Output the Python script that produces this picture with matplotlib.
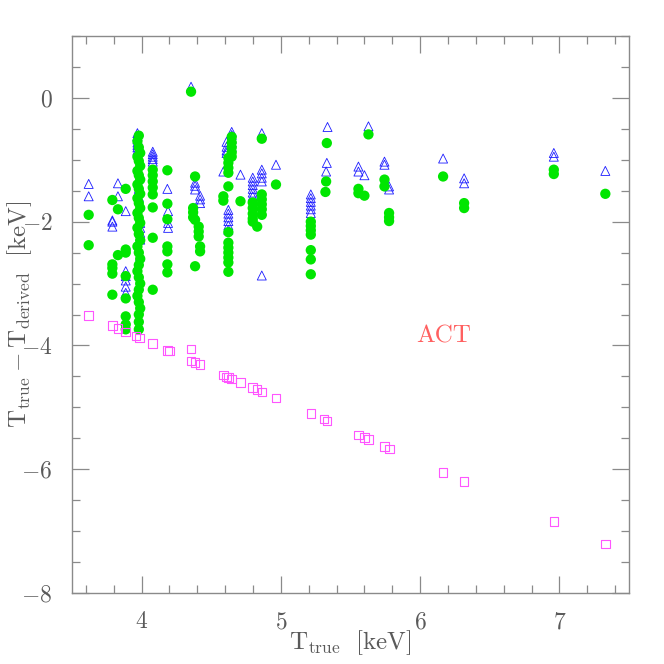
import matplotlib
matplotlib.use("Agg")
import matplotlib.pyplot as plt
from matplotlib.ticker import MultipleLocator

plt.rcParams["font.family"] = "serif"
plt.rcParams["font.serif"] = ["cmr10", "DejaVu Serif"]
plt.rcParams["mathtext.fontset"] = "cm"
plt.rcParams["axes.formatter.use_mathtext"] = True

# green circles: T_true, T_true - T_derived
green_x = [3.62, 3.62,
           3.79, 3.79, 3.79, 3.79, 3.79,
           3.83, 3.83,
           3.886, 3.886, 3.886, 3.886, 3.886, 3.886, 3.886, 3.886,
           3.98, 3.97, 3.98, 3.99, 3.97, 3.98, 3.99, 3.97, 3.98, 3.99,
           3.97, 3.98, 3.99, 3.97, 3.98, 3.99, 3.97, 3.98, 3.99, 3.97,
           3.98, 3.99, 3.97, 3.98, 3.99, 3.98, 3.97, 3.98, 3.99, 3.98,
           3.97, 3.98, 3.99, 3.98, 3.98, 3.98,
           4.08, 4.08, 4.08, 4.08, 4.08, 4.08, 4.08, 4.08,
           4.185, 4.185, 4.185, 4.185, 4.185, 4.185, 4.185,
           4.355,
           4.384, 4.37, 4.37, 4.37, 4.384, 4.384,
           4.41, 4.41, 4.41, 4.42, 4.42,
           4.587, 4.587,
           4.623, 4.623, 4.623, 4.623, 4.623, 4.623, 4.623, 4.623, 4.623,
           4.623, 4.623, 4.623,
           4.647, 4.647, 4.647, 4.647, 4.647,
           4.71,
           4.798, 4.798, 4.798, 4.798, 4.798,
           4.83,
           4.863, 4.863, 4.863, 4.863, 4.863, 4.863,
           4.965,
           5.215, 5.215, 5.215, 5.215, 5.215, 5.215, 5.215,
           5.33, 5.325, 5.32,
           5.557, 5.557, 5.60, 5.629,
           5.744, 5.744, 5.777, 5.777, 5.777,
           6.165, 6.316, 6.316, 6.96, 6.96, 7.33]
green_y = [-1.89, -2.38,
           -1.65, -2.69, -2.75, -2.84, -3.18,
           -1.80, -2.54,
           -1.47, -2.45, -2.50, -2.88, -3.24, -3.53, -3.66, -3.74,
           -0.61, -0.70, -0.80, -0.89, -0.95, -1.02, -1.10, -1.18, -1.25, -1.32,
           -1.40, -1.47, -1.55, -1.62, -1.70, -1.78, -1.86, -1.94, -2.02, -2.10,
           -2.20, -2.30, -2.40, -2.50, -2.60, -2.70, -2.80, -2.90, -3.00, -3.10,
           -3.20, -3.30, -3.40, -3.50, -3.62, -3.74,
           -1.16, -1.25, -1.35, -1.45, -1.56, -1.77, -2.26, -3.10,
           -1.17, -1.71, -1.96, -2.40, -2.48, -2.69, -2.82,
           0.10,
           -1.27, -1.78, -1.85, -1.93, -1.97, -2.72,
           -2.08, -2.16, -2.24, -2.40, -2.48,
           -1.59, -1.66,
           -0.97, -1.05, -1.13, -1.21, -1.43, -2.17, -2.34, -2.42, -2.50,
           -2.58, -2.66, -2.81,
           -0.63, -0.72, -0.80, -0.88, -0.95,
           -1.67,
           -1.69, -1.78, -1.87, -1.95, -2.00,
           -2.08,
           -0.66, -1.56, -1.64, -1.72, -1.80, -1.89,
           -1.40,
           -2.00, -2.07, -2.14, -2.21, -2.46, -2.61, -2.85,
           -0.73, -1.35, -1.52,
           -1.47, -1.54, -1.58, -0.59,
           -1.32, -1.43, -1.86, -1.93, -1.99,
           -1.27, -1.70, -1.78, -1.16, -1.23, -1.55]

# blue open triangles
tri_x = [3.62, 3.62,
         3.79, 3.79, 3.79,
         3.83, 3.83,
         3.886, 3.886, 3.886, 3.886, 3.886, 3.886,
         3.97, 3.97, 3.97, 3.97, 3.97, 3.97, 3.97, 3.98, 3.98, 3.98,
         3.99, 3.99, 3.99, 3.99, 3.99, 3.99, 3.99,
         4.08, 4.08, 4.08, 4.08, 4.08,
         4.185, 4.19, 4.19, 4.19,
         4.355,
         4.384, 4.384, 4.384, 4.42, 4.42, 4.42,
         4.587,
         4.623, 4.623, 4.623, 4.623, 4.623, 4.623, 4.61, 4.61, 4.61, 4.61,
         4.647, 4.647, 4.647, 4.647, 4.647,
         4.71,
         4.798, 4.798, 4.798, 4.798, 4.798, 4.798,
         4.863, 4.863, 4.863, 4.863, 4.863, 4.863,
         4.965,
         5.215, 5.215, 5.215, 5.215, 5.215, 5.215,
         5.335, 5.33, 5.325,
         5.557, 5.557, 5.60, 5.629,
         5.744, 5.744, 5.777, 5.777,
         6.165, 6.316, 6.316, 6.96, 6.96, 7.33]
tri_y = [-1.39, -1.59,
         -1.98, -2.00, -2.08,
         -1.38, -1.59,
         -1.83, -2.80, -2.88, -2.95, -3.05, -3.15,
         -0.57, -0.62, -0.67, -0.72, -0.76, -0.80, -0.85, -1.30, -1.47, -1.60,
         -1.73, -2.02, -2.10, -2.18, -2.24, -2.29, -2.56,
         -0.87, -0.91, -0.95, -0.99, -1.03,
         -1.47, -1.83, -2.02, -2.10,
         0.18,
         -1.37, -1.42, -1.48, -1.58, -1.64, -1.70,
         -1.19,
         -1.81, -1.87, -1.93, -1.99, -2.06, -2.13, -0.71, -0.79, -0.85, -0.89,
         -0.55, -0.60, -0.66, -0.72, -0.79,
         -1.24,
         -1.29, -1.35, -1.41, -1.47, -1.53, -1.59,
         -0.57, -1.16, -1.22, -1.29, -1.35, -2.87,
         -1.08,
         -1.56, -1.62, -1.68, -1.74, -1.80, -1.86,
         -0.47, -1.05, -1.19,
         -1.11, -1.19, -1.25, -0.46,
         -1.03, -1.08, -1.43, -1.48,
         -0.98, -1.30, -1.38, -0.89, -0.95, -1.18]

# magenta open squares
sq_x = [3.62, 3.79, 3.83, 3.886, 3.96, 3.984, 4.08, 4.185, 4.20, 4.355,
        4.355, 4.384, 4.42, 4.587, 4.61, 4.623, 4.647, 4.71, 4.798, 4.83,
        4.863, 4.965, 5.215, 5.31, 5.33, 5.557, 5.60, 5.629, 5.744, 5.78,
        6.165, 6.316, 6.96, 7.33]
sq_y = [-3.52, -3.68, -3.73, -3.78, -3.85, -3.88, -3.97, -4.08, -4.09, -4.06,
        -4.25, -4.28, -4.31, -4.48, -4.51, -4.52, -4.54, -4.60, -4.68, -4.71,
        -4.75, -4.85, -5.10, -5.19, -5.22, -5.45, -5.49, -5.52, -5.63, -5.67,
        -6.05, -6.20, -6.84, -7.21]

grey = "#8a8a8a"
text_grey = "#5a5a5a"

fig = plt.figure(figsize=(6.64, 6.64), dpi=100)
ax = fig.add_axes([0.1084, 0.1069, 0.8389, 0.8389])

ax.scatter(tri_x, tri_y, marker="^", s=42, facecolors="none",
           edgecolors="#1a1aff", linewidths=0.6, zorder=2)
ax.scatter(green_x, green_y, marker="o", s=55, color="#00e600",
           edgecolors="none", zorder=3)
ax.scatter(sq_x, sq_y, marker="s", s=38, facecolors="none",
           edgecolors="#ff55ff", linewidths=0.8, zorder=4)

ax.text(6.17, -3.85, "ACT", color="#ff6060", fontsize=18,
        ha="center", va="center", family="serif")

ax.set_xlim(3.5, 7.5)
ax.set_ylim(-8, 1)
ax.xaxis.set_major_locator(MultipleLocator(1))
ax.xaxis.set_minor_locator(MultipleLocator(0.2))
ax.yaxis.set_major_locator(MultipleLocator(2))
ax.yaxis.set_minor_locator(MultipleLocator(0.5))

ax.tick_params(which="both", direction="in", top=True, right=True,
               color=grey, width=0.9, labelcolor=text_grey, labelsize=17)
ax.tick_params(which="major", length=12, pad=13)
ax.tick_params(which="minor", length=6)
ax.tick_params(axis="y", pad=14)
for sp in ax.spines.values():
    sp.set_color(grey)
    sp.set_linewidth(1.0)

ax.set_xlabel(r"$\mathrm{T_{true}}\ \ [\mathrm{keV}]$", fontsize=18,
              color=text_grey)
ax.set_ylabel(r"$\mathrm{T_{true} - T_{derived}}\ \ [\mathrm{keV}]$",
              fontsize=18, color=text_grey)
ax.xaxis.set_label_coords(0.5, -0.063)
ax.yaxis.set_label_coords(-0.068, 0.5)

fig.savefig("out.png", dpi=100)
